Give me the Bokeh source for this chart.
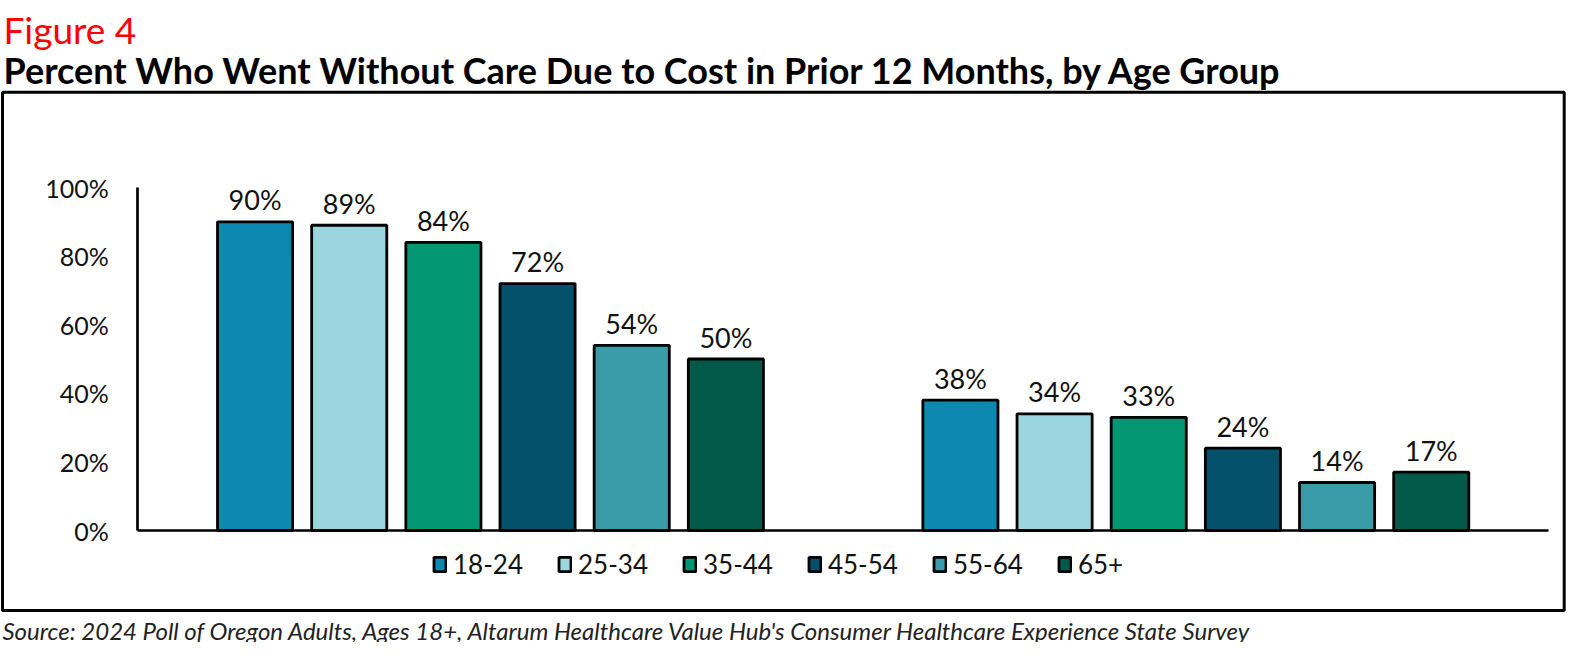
from bokeh.plotting import figure
from bokeh.models import (ColumnDataSource, Range1d, FixedTicker, PrintfTickFormatter,
                          Label, BoxAnnotation, Legend, LegendItem)
from bokeh.transform import dodge
from bokeh.core.properties import value
from bokeh.embed import file_html
from bokeh.resources import INLINE

# ---------------- data ----------------
groups = ["Group 1", "Group 2"]
ages = ["18-24", "25-34", "35-44", "45-54", "55-64", "65+"]
group1_values = [90, 89, 84, 72, 54, 50]
group2_values = [38, 34, 33, 24, 14, 17]
y_ticks = [0, 20, 40, 60, 80, 100]

title_top = "Figure 4"
title_main = "Percent Who Went Without Care Due to Cost in Prior 12 Months, by Age Group"
source_note = ("Source: 2024 Poll of Oregon Adults, Ages 18+, Altarum Healthcare Value Hub's "
               "Consumer Healthcare Experience State Survey")

# ---------------- layout / style ----------------
colors = ["#0C88B1", "#9BD5DE", "#039673", "#05506A", "#3A9CA8", "#045A4A"]
FONT = "Lato"
W, H = 1566, 642
# canvas pixel positions (measured from canvas top-left)
axis_x = 137.3          # y-axis line
group_px = 705.35       # width of one group slot
zero_y = 530.0          # baseline (0 %)
px_per_pct = 3.43
step = 0.1335
bar_w = 0.1065

x_start = -axis_x / group_px
x_end = (W - axis_x) / group_px
y_end = zero_y / px_per_pct
y_start = -(H - zero_y) / px_per_pct

p = figure(width=W, height=H, x_range=Range1d(x_start, x_end), y_range=Range1d(y_start, y_end),
           title=None, output_backend="svg", toolbar_location=None, min_border=0)
p.outline_line_color = None
p.grid.visible = False
p.background_fill_color = "white"
p.border_fill_color = "white"

group_pos = [i + 0.5 for i in range(len(groups))]
items = []
for i, age in enumerate(ages):
    vals = [group1_values[i], group2_values[i]]
    src = ColumnDataSource(dict(group=groups, pos=group_pos, value=vals,
                                label=[f"{v}%" for v in vals]))
    off = (i - 2.5) * step
    r = p.vbar(x=dodge("pos", off), top="value", width=bar_w, source=src,
               fill_color=colors[i], line_color="black", line_width=2.8)
    p.text(x=dodge("pos", off), y="value", text="label", source=src,
           text_align="center", text_baseline="alphabetic", y_offset=-22,
           text_font=value(FONT), text_font_size="27px", text_color="#111111")
    items.append(LegendItem(label=age, renderers=[r]))

# axes drawn inside the frame
p.yaxis.fixed_location = 0
p.yaxis.ticker = FixedTicker(ticks=y_ticks)
p.yaxis.formatter = PrintfTickFormatter(format="%d%%")
p.yaxis.bounds = (0, 100)
p.yaxis.axis_line_width = 2.7
p.yaxis.axis_line_color = "black"
p.yaxis.major_tick_line_color = None
p.yaxis.minor_tick_line_color = None
p.yaxis.major_tick_out = 0
p.yaxis.major_label_standoff = 29
p.yaxis.major_label_text_font = FONT
p.yaxis.major_label_text_font_size = "25px"
p.yaxis.major_label_text_color = "#111111"

p.xaxis.fixed_location = 0
p.xaxis.ticker = FixedTicker(ticks=[])
p.xaxis.bounds = (0, len(groups))
p.xaxis.axis_line_width = 2.7
p.xaxis.axis_line_color = "black"
p.xaxis.major_tick_line_color = None
p.xaxis.minor_tick_line_color = None

legend = Legend(items=items, location=(432, H - 580), orientation="horizontal",
                glyph_width=15, glyph_height=18, label_standoff=6, spacing=34,
                padding=0, margin=0, border_line_color=None, background_fill_alpha=0,
                label_text_font=FONT, label_text_font_size="26px", label_text_color="#111111")
p.add_layout(legend)

# outer box
box = BoxAnnotation(left=2, right=1563.7, bottom=H - 610, top=H - 91.7,
                    left_units="screen", right_units="screen",
                    top_units="screen", bottom_units="screen",
                    fill_alpha=0, fill_color=None, line_color="black", line_alpha=1.0,
                    line_width=3)
p.add_layout(box)

p.add_layout(Label(x=3, y=H - 28.7, x_units="screen", y_units="screen", text=title_top,
                   text_color="#FF0000", text_font=FONT, text_font_size="37px",
                   text_baseline="alphabetic"))
p.add_layout(Label(x=3, y=H - 69.3, x_units="screen", y_units="screen", text=title_main,
                   text_color="black", text_font=FONT, text_font_style="bold",
                   text_font_size="36px", text_baseline="alphabetic"))
p.add_layout(Label(x=2, y=H - 630, x_units="screen", y_units="screen", text=source_note,
                   text_color="#222222", text_font=FONT, text_font_style="italic",
                   text_font_size="24px", text_baseline="alphabetic"))

open("out.html", "w").write(file_html(p, INLINE))
